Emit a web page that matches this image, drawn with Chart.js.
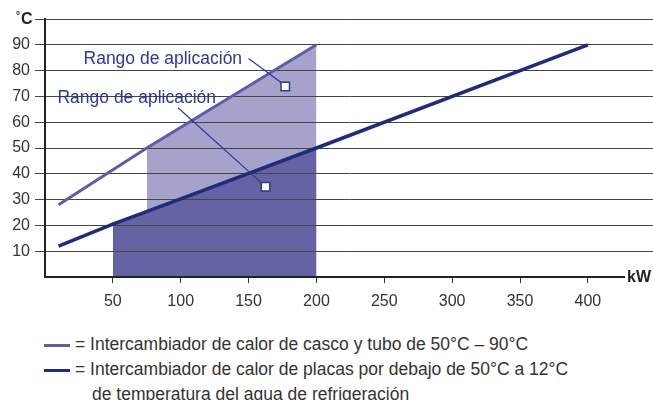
<!DOCTYPE html>
<html>
<head>
<meta charset="utf-8">
<script src="https://cdn.jsdelivr.net/npm/chart.js@4"></script>
<style>
html, body { margin: 0; padding: 0; overflow: hidden; background: #fff; font-family: 'Liberation Sans', Arial, sans-serif; }
#wrap { position: relative; width: 653px; height: 312px; }
#legend { position: absolute; left: 44px; top: 332px; font-size: 17.5px; line-height: 25px; color: #333; }
#legend div { white-space: nowrap; }
#legend span.sw { display: inline-block; width: 26px; height: 3px; vertical-align: middle; margin-right: 5px; }
#legend span.indent { display: inline-block; width: 48px; }
</style>
</head>
<body>
<div id="wrap"><canvas id="chart" width="653" height="312"></canvas></div>
<div id="legend"></div>
<script>
// Datos
var xTicks = [50, 100, 150, 200, 250, 300, 350, 400];
var yTicks = [10, 20, 30, 40, 50, 60, 70, 80, 90, 100];

var shellX = [10, 75, 200];   // casco y tubo
var shellY = [28, 50, 90];
var plateX = [10, 50, 100, 200, 400];   // placas
var plateY = [12, 20.5, 30.3, 50, 90];

var shellRange = [75, 200];
var plateRange = [50, 200];

var labelText = 'Rango de aplicación';
var labelX = [86.8, 67.6];
var labelY = [84.3, 69.5];
var leaderX = [[150, 175], [98, 160.5]];
var leaderY = [[84.7, 75], [65.6, 36]];
var markerX = [177, 162.5];
var markerY = [73.8, 35];

var legendItems = [
    'Intercambiador de calor de casco y tubo de 50°C – 90°C',
    'Intercambiador de calor de placas por debajo de 50°C a 12°C'
];
var legendExtra = 'de temperatura del agua de refrigeración';

var shellColor = '#5f5ca8';
var plateColor = '#1f2b7b';
var lightFill = '#a5a3cc';
var darkFill = '#6563a4';
var noteColor = '#2d3a8e';
var font = "'Liberation Sans', Arial, sans-serif";

function pts(xs, ys) {
    return xs.map(function (x, i) { return { x: x, y: ys[i] }; });
}
function inRange(xs, ys, r) {
    return pts(xs, ys).filter(function (p) { return p.x >= r[0] && p.x <= r[1]; });
}

var datasets = [
    { data: inRange(shellX, shellY, shellRange), fill: 'origin', backgroundColor: lightFill,
      borderWidth: 0, pointRadius: 0, order: 10 },
    { data: inRange(plateX, plateY, plateRange), fill: 'origin', backgroundColor: darkFill,
      borderWidth: 0, pointRadius: 0, order: 9 },
    { data: pts(shellX, shellY), borderColor: shellColor, borderWidth: 3, pointRadius: 0, fill: false, order: 4 },
    { data: pts(plateX, plateY), borderColor: plateColor, borderWidth: 3.5, pointRadius: 0, fill: false, order: 3 }
];
leaderX.forEach(function (lx, i) {
    datasets.push({ data: pts(lx, leaderY[i]), borderColor: noteColor, borderWidth: 1.2,
        pointRadius: 0, fill: false, order: 2 });
});
datasets.push({ data: pts(markerX, markerY), showLine: false, pointStyle: 'rect', pointRadius: 6,
    pointBackgroundColor: '#fff', pointBorderColor: noteColor, pointBorderWidth: 1.5, order: 1 });

var extras = {
    id: 'extras',
    afterDraw: function (chart) {
        var c = chart.ctx, a = chart.chartArea;
        var xs = chart.scales.x, ys = chart.scales.y;
        c.save();
        c.fillStyle = noteColor;
        c.font = '17.5px ' + font;
        c.textAlign = 'center';
        c.textBaseline = 'middle';
        labelX.forEach(function (lx, i) {
            c.fillText(labelText, xs.getPixelForValue(lx), ys.getPixelForValue(labelY[i]));
        });
        // kW
        c.fillStyle = '#fff';
        c.fillRect(a.right - 28, a.bottom - 9, 28, 18);
        c.fillStyle = '#222';
        c.font = 'bold 16px ' + font;
        c.textAlign = 'right';
        c.fillText('kW', a.right - 2, a.bottom + 1);
        // °C
        c.textAlign = 'left';
        c.fillText('C', a.left - 24, a.top + 1);
        c.font = 'bold 10px ' + font;
        c.fillText('°', a.left - 29, a.top - 3);
        c.restore();
    }
};

new Chart(document.getElementById('chart'), {
    type: 'line',
    data: { datasets: datasets },
    options: {
        responsive: false,
        animation: false,
        layout: { autoPadding: false, padding: { top: 19, left: 0, right: 0, bottom: 0 } },
        plugins: {
            legend: { display: false },
            tooltip: { enabled: false },
            filler: { drawTime: 'beforeDraw' }
        },
        scales: {
            x: {
                type: 'linear', min: 0, max: 448,
                afterBuildTicks: function (s) { s.ticks = xTicks.map(function (v) { return { value: v }; }); },
                afterFit: function (s) { s.height = 35; s.paddingLeft = 0; s.paddingRight = 0; },
                grid: { drawOnChartArea: false, tickLength: 6, color: '#333', lineWidth: 1 },
                border: { color: '#222', width: 2 },
                ticks: { color: '#333', font: { size: 16, family: font }, padding: 9, maxRotation: 0 }
            },
            y: {
                min: 0, max: 100,
                afterBuildTicks: function (s) { s.ticks = yTicks.map(function (v) { return { value: v }; }); },
                afterFit: function (s) { s.width = 45; s.paddingTop = 0; s.paddingBottom = 0; },
                grid: { drawTicks: true, tickLength: 10, color: '#444', lineWidth: 1 },
                border: { color: '#222', width: 2 },
                ticks: { color: '#333', font: { size: 16, family: font }, padding: 5,
                    callback: function (v) { return v === 100 ? '' : v; } }
            }
        }
    },
    plugins: [extras]
});

var lg = document.getElementById('legend');
legendItems.forEach(function (t, i) {
    var d = document.createElement('div');
    d.innerHTML = '<span class="sw" style="background:' + (i === 0 ? shellColor : plateColor) + '"></span>= ' + t;
    lg.appendChild(d);
});
var e = document.createElement('div');
e.innerHTML = '<span class="indent"></span>' + legendExtra;
lg.appendChild(e);
</script>
</body>
</html>
